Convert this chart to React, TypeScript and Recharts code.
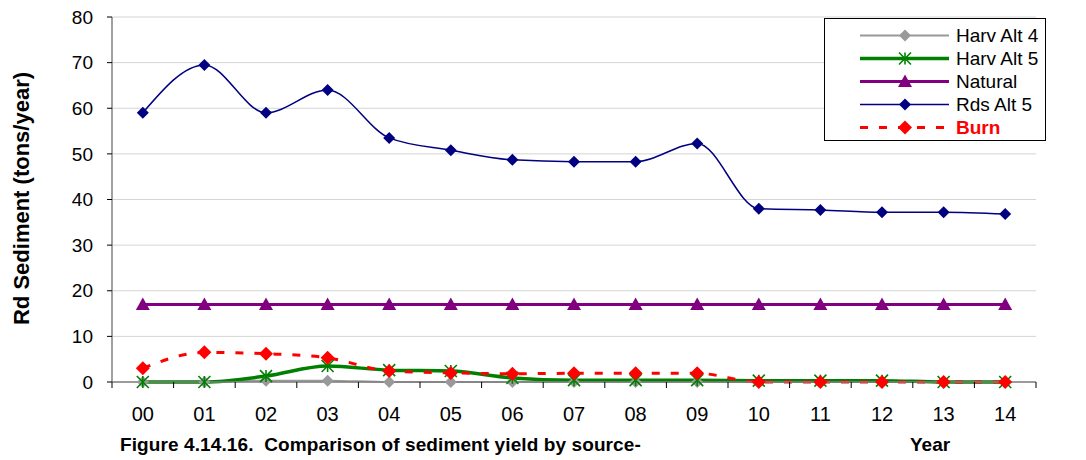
import React from "react";
import {
  LineChart,
  Line,
  XAxis,
  YAxis,
  CartesianGrid,
} from "recharts";

const years = ["00", "01", "02", "03", "04", "05", "06", "07", "08", "09", "10", "11", "12", "13", "14"];
const harvAlt4 = [0, 0, 0.3, 0.3, 0, 0, 0, 0, 0, 0, 0, 0, 0, 0, 0];
const harvAlt5 = [0, 0, 1.3, 3.5, 2.6, 2.4, 0.9, 0.4, 0.4, 0.4, 0.3, 0.3, 0.3, 0, 0];
const natural = [17, 17, 17, 17, 17, 17, 17, 17, 17, 17, 17, 17, 17, 17, 17];
const rdsAlt5 = [59, 69.5, 59, 64, 53.5, 50.8, 48.7, 48.3, 48.3, 52.3, 38, 37.7, 37.2, 37.2, 36.8];
const burn = [3, 6.5, 6.2, 5.3, 2.4, 2.0, 1.8, 1.9, 1.9, 1.9, 0, 0, 0, 0, 0];
const yTicks = [0, 10, 20, 30, 40, 50, 60, 70, 80];

const data = years.map((year, i) => ({
  i,
  year,
  harvAlt4: harvAlt4[i],
  harvAlt5: harvAlt5[i],
  natural: natural[i],
  rdsAlt5: rdsAlt5[i],
  burn: burn[i],
}));

const FONT = "'Liberation Sans', Arial, sans-serif";
const W = 1086;
const H = 460;
const PLOT_LEFT = 112;
const PLOT_RIGHT = 1036;
const HALF_BAND = (PLOT_RIGHT - PLOT_LEFT) / years.length / 2;

type Marker = "diamond" | "star" | "triangle";

function markerShape(kind: Marker, x: number, y: number, r: number, color: string, key?: string | number) {
  if (kind === "diamond") {
    return (
      <polygon
        key={key}
        points={`${x},${y - r} ${x + r},${y} ${x},${y + r} ${x - r},${y}`}
        fill={color}
      />
    );
  }
  if (kind === "triangle") {
    return (
      <polygon
        key={key}
        points={`${x},${y - r} ${x + r},${y + r * 0.8} ${x - r},${y + r * 0.8}`}
        fill={color}
      />
    );
  }
  return (
    <g key={key} stroke={color} strokeWidth={1.6}>
      <line x1={x - r} y1={y - r} x2={x + r} y2={y + r} />
      <line x1={x - r} y1={y + r} x2={x + r} y2={y - r} />
      <line x1={x} y1={y - r} x2={x} y2={y + r} />
    </g>
  );
}

const makeDot = (kind: Marker, r: number, color: string) => (props: any) =>
  markerShape(kind, props.cx, props.cy, r, color, props.index);

const series = [
  { key: "harvAlt4", name: "Harv Alt 4", color: "#999999", width: 2, marker: "diamond" as Marker, r: 6, dash: undefined, bold: false },
  { key: "harvAlt5", name: "Harv Alt 5", color: "#008000", width: 3.5, marker: "star" as Marker, r: 6, dash: undefined, bold: false },
  { key: "natural", name: "Natural", color: "#800080", width: 3, marker: "triangle" as Marker, r: 7, dash: undefined, bold: false },
  { key: "rdsAlt5", name: "Rds Alt 5", color: "#000080", width: 1.5, marker: "diamond" as Marker, r: 6, dash: undefined, bold: false },
  { key: "burn", name: "Burn", color: "#ff0000", width: 3, marker: "diamond" as Marker, r: 7, dash: "8 11", bold: true },
];

function LegendBox() {
  return (
    <div
      style={{
        position: "absolute",
        left: 824,
        top: 18,
        width: 222,
        height: 123,
        border: "1px solid #000",
        background: "#fff",
        boxSizing: "border-box",
        paddingTop: 5,
        fontFamily: FONT,
      }}
    >
      {series.map((s) => (
        <div key={s.key} style={{ display: "flex", alignItems: "center", height: 23 }}>
          <svg width={130} height={23}>
            <line
              x1={35}
              x2={124}
              y1={11.5}
              y2={11.5}
              stroke={s.color}
              strokeWidth={s.width}
              strokeDasharray={s.dash}
            />
            {markerShape(s.marker, 80, 11.5, s.r, s.color)}
          </svg>
          <span
            style={{
              fontSize: 19,
              color: s.bold ? s.color : "#000",
              fontWeight: s.bold ? "bold" : "normal",
              marginLeft: 1,
            }}
          >
            {s.name}
          </span>
        </div>
      ))}
    </div>
  );
}

function XTick(props: any) {
  const { x, y, payload, index } = props;
  const last = index === years.length - 1;
  return (
    <g>
      <line x1={x - HALF_BAND} x2={x - HALF_BAND} y1={y} y2={y + 6} stroke="#000" />
      {last && <line x1={x + HALF_BAND} x2={x + HALF_BAND} y1={y} y2={y + 6} stroke="#000" />}
      <text x={x} y={y + 39} textAnchor="middle" fontSize={20} fontFamily={FONT} fill="#000">
        {years[payload.value]}
      </text>
    </g>
  );
}

export default function App() {
  return (
    <div style={{ position: "absolute", left: 0, top: 0, width: W, height: H, background: "#fff" }}>
      <LineChart
        width={W}
        height={H}
        data={data}
        margin={{ top: 17, right: W - PLOT_RIGHT, bottom: 48, left: 0 }}
      >
        <CartesianGrid horizontal vertical={false} stroke="#d4d4d4" />
        <XAxis
          dataKey="i"
          type="number"
          domain={[-0.5, years.length - 0.5]}
          ticks={years.map((_, i) => i)}
          interval={0}
          height={30}
          tickLine={false}
          tickSize={0}
          tickMargin={0}
          axisLine={{ stroke: "#808080", strokeWidth: 1.5 }}
          tick={<XTick />}
        />
        <YAxis
          domain={[0, 80]}
          ticks={yTicks}
          width={PLOT_LEFT}
          interval={0}
          tickSize={5}
          tickMargin={14}
          axisLine={{ stroke: "#808080", strokeWidth: 1.5 }}
          tickLine={{ stroke: "#000" }}
          tick={{ fontSize: 19, fontFamily: FONT, fill: "#000" }}
          label={{
            content: (p: any) => {
              const vb = p.viewBox;
              const cy = vb.y + vb.height / 2 - 1;
              return (
                <text
                  transform={`translate(29, ${cy}) rotate(-90)`}
                  textAnchor="middle"
                  fontSize={22}
                  fontWeight="bold"
                  fontFamily={FONT}
                  fill="#000"
                >
                  Rd Sediment (tons/year)
                </text>
              );
            },
          }}
        />
        {series.map((s) => (
          <Line
            key={s.key}
            dataKey={s.key}
            name={s.name}
            type={s.key === "natural" ? "linear" : "monotone"}
            stroke={s.color}
            strokeWidth={s.width}
            strokeDasharray={s.dash}
            dot={makeDot(s.marker, s.r, s.color)}
            activeDot={false}
            isAnimationActive={false}
          />
        ))}
      </LineChart>
      <LegendBox />
      <div
        style={{
          position: "absolute",
          left: 120,
          top: 434,
          fontFamily: FONT,
          fontSize: 19,
          fontWeight: "bold",
          letterSpacing: 0.1,
          whiteSpace: "nowrap",
        }}
      >
        Figure 4.14.16.&nbsp; Comparison of sediment yield by source-
      </div>
      <div
        style={{
          position: "absolute",
          left: 910,
          top: 434,
          fontFamily: FONT,
          fontSize: 19,
          fontWeight: "bold",
        }}
      >
        Year
      </div>
    </div>
  );
}
